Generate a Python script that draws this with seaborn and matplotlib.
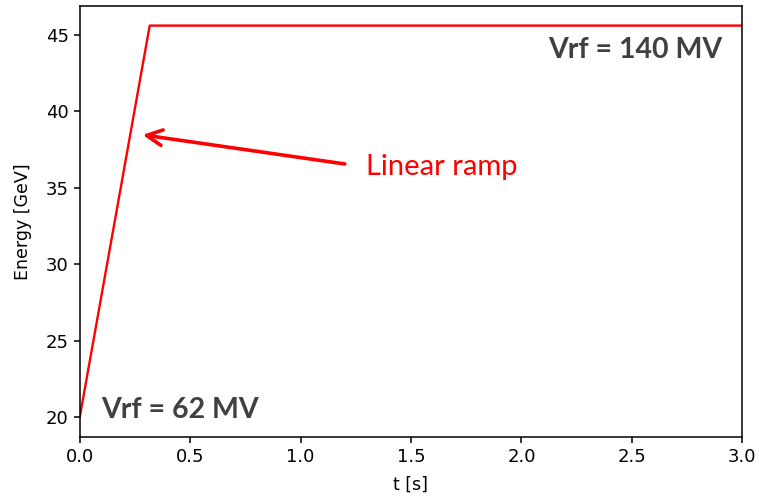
import matplotlib
matplotlib.use('Agg')
import matplotlib.pyplot as plt
import pandas as pd
import seaborn as sns

# energy ramp: linear from 20 GeV up to flat top, then constant
t_s = [0.0, 0.317, 3.0]
energy_gev = [20.0, 45.6, 45.6]

label_flat = 'Vrf = 140 MV'
label_start = 'Vrf = 62 MV'
label_ramp = 'Linear ramp'

df = pd.DataFrame({'t': t_s, 'E': energy_gev})

sns.set_style('ticks', {'axes.edgecolor': 'black', 'xtick.color': 'black', 'ytick.color': 'black',
                        'axes.labelcolor': 'black', 'text.color': 'black'})
plt.rcParams['font.family'] = ['DejaVu Sans']

fig, ax = plt.subplots(figsize=(7.59, 5.00), dpi=100)
fig.subplots_adjust(left=0.105, right=0.978, top=0.988, bottom=0.126)

sns.lineplot(data=df, x='t', y='E', color='red', linewidth=1.7, ax=ax)

ax.set_xlim(0, 3.0)
ax.margins(y=0.05)
ax.set_xlabel('t [s]', fontsize=12.5, labelpad=7)
ax.set_ylabel('Energy [GeV]', fontsize=12.5, labelpad=10)
ax.tick_params(labelsize=13, length=4.5, width=1.1, direction='out')
for s in ax.spines.values():
    s.set_linewidth(1.1)

# annotations
fnt = ['Lato', 'DejaVu Sans']
ax.text(2.119, 43.50, label_flat, fontsize=20.5, fontweight='bold', color='#404040',
        family=fnt, va='baseline', ha='left')
ax.text(0.098, 19.93, label_start, fontsize=20.5, fontweight='bold', color='#404040',
        family=fnt, va='baseline', ha='left')
ax.text(1.298, 35.86, label_ramp, fontsize=21, color='red',
        family=fnt, va='baseline', ha='left')
ax.annotate('', xy=(0.285, 38.46), xytext=(1.20, 36.56),
            arrowprops=dict(arrowstyle='->', color='red', lw=2.6, mutation_scale=28,
                            shrinkA=0, shrinkB=0))

fig.savefig('out.png', dpi=100)
